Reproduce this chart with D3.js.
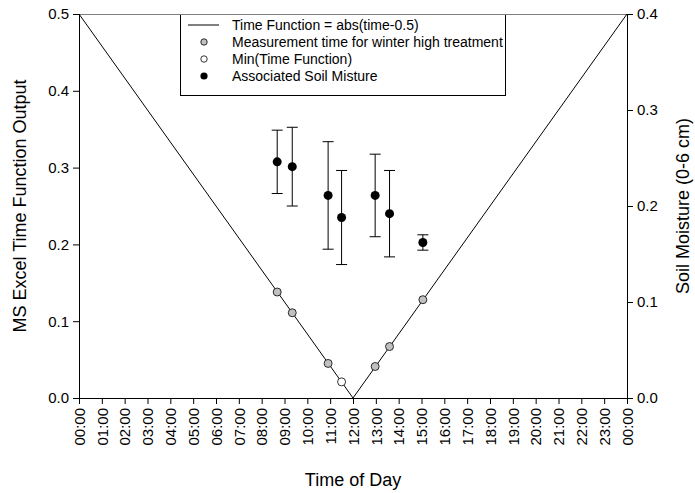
<!DOCTYPE html>
<html>
<head>
<meta charset="utf-8">
<script src="https://cdn.jsdelivr.net/npm/d3@7/dist/d3.min.js"></script>
<style>
  html, body { margin: 0; padding: 0; background: #fff; }
  svg { display: block; font-family: "Liberation Sans", Arial, sans-serif; }
</style>
</head>
<body>
<svg id="chart" width="695" height="493"></svg>
<script>
// Time function: abs(time - 0.5), time as fraction of a day (hours on the axis)
const fnHours = [0, 12, 24];
const fnValues = [0.5, 0, 0.5];

// Measurement times (hours) for the winter high treatment and their function values
const measHours = [8.68, 9.34, 10.91, 12.97, 13.60, 15.06];
const measValues = [0.138, 0.111, 0.045, 0.041, 0.067, 0.128];

// Minimum of the time function among the measurement times
const minHours = [11.5];
const minValues = [0.021];

// Associated soil moisture (0-6 cm), mean and error
const soilHours = [8.68, 9.34, 10.91, 11.5, 12.97, 13.60, 15.06];
const soilMean = [0.246, 0.241, 0.211, 0.188, 0.211, 0.192, 0.162];
const soilErr = [0.033, 0.041, 0.056, 0.049, 0.043, 0.045, 0.008];

// Axis ticks
const xTickHours = d3.range(0, 25);
const xTickLabels = ["00:00","01:00","02:00","03:00","04:00","05:00","06:00","07:00",
  "08:00","09:00","10:00","11:00","12:00","13:00","14:00","15:00","16:00","17:00",
  "18:00","19:00","20:00","21:00","22:00","23:00","00:00"];
const yLeftTicks = [0, 0.1, 0.2, 0.3, 0.4, 0.5];
const yRightTicks = [0, 0.1, 0.2, 0.3, 0.4];

const legendItems = [
  { kind: "line", label: "Time Function = abs(time-0.5)" },
  { kind: "gray", label: "Measurement time for winter high treatment" },
  { kind: "white", label: "Min(Time Function)" },
  { kind: "black", label: "Associated Soil Misture" }
];

const svg = d3.select("#chart");
const plotL = 79, plotR = 627, plotT = 14, plotB = 398;

const x = d3.scaleLinear().domain([0, 24]).range([plotL, plotR]);
const yL = d3.scaleLinear().domain([0, 0.5]).range([plotB, plotT]);
const yR = d3.scaleLinear().domain([0, 0.4]).range([plotB, plotT]);

const tickFont = "15px";
const titleFont = "18px";

// Top frame line
svg.append("line")
  .attr("x1", plotL).attr("x2", plotR)
  .attr("y1", plotT + 0.5).attr("y2", plotT + 0.5)
  .attr("stroke", "#808080").attr("stroke-width", 1.2);

// Left axis
const gL = svg.append("g").attr("transform", `translate(${plotL},0)`)
  .call(d3.axisLeft(yL).tickValues(yLeftTicks).tickFormat(d3.format(".1f")).tickSizeOuter(0).tickSize(6).tickPadding(4));
// Right axis
const gR = svg.append("g").attr("transform", `translate(${plotR},0)`)
  .call(d3.axisRight(yR).tickValues(yRightTicks).tickFormat(d3.format(".1f")).tickSizeOuter(0).tickSize(6).tickPadding(4));
// Bottom axis
const gB = svg.append("g").attr("transform", `translate(0,${plotB})`)
  .call(d3.axisBottom(x).tickValues(xTickHours).tickFormat((d, i) => xTickLabels[i]).tickSizeOuter(0).tickSize(6));
gB.selectAll(".tick text")
  .attr("transform", "rotate(-90)")
  .attr("text-anchor", "end")
  .attr("x", -10).attr("y", 0).attr("dy", "0.35em");

[gL, gR, gB].forEach(g => {
  g.selectAll("text").attr("font-size", tickFont).attr("fill", "#000")
    .attr("font-family", "'Liberation Sans', Arial, sans-serif");
  g.selectAll("path, line").attr("stroke", "#000");
});

// Axis titles
svg.append("text")
  .attr("transform", `translate(26,${(plotT + plotB) / 2}) rotate(-90)`)
  .attr("text-anchor", "middle").attr("font-size", titleFont)
  .text("MS Excel Time Function Output");
svg.append("text")
  .attr("transform", `translate(689,${(plotT + plotB) / 2}) rotate(-90)`)
  .attr("text-anchor", "middle").attr("font-size", titleFont)
  .text("Soil Moisture (0-6 cm)");
svg.append("text")
  .attr("x", (plotL + plotR) / 2).attr("y", 486)
  .attr("text-anchor", "middle").attr("font-size", titleFont)
  .text("Time of Day");

// Time function line
const line = d3.line().x((d, i) => x(fnHours[i])).y(d => yL(d));
svg.append("path").datum(fnValues)
  .attr("d", line).attr("fill", "none").attr("stroke", "#000").attr("stroke-width", 1);

// Error bars for soil moisture
const capW = 5.5;
const eb = svg.append("g");
soilHours.forEach((h, i) => {
  const cx = x(h), y1 = yR(soilMean[i] + soilErr[i]), y2 = yR(soilMean[i] - soilErr[i]);
  eb.append("line").attr("x1", cx).attr("x2", cx).attr("y1", y1).attr("y2", y2).attr("stroke", "#000");
  eb.append("line").attr("x1", cx - capW).attr("x2", cx + capW).attr("y1", y1).attr("y2", y1).attr("stroke", "#000");
  eb.append("line").attr("x1", cx - capW).attr("x2", cx + capW).attr("y1", y2).attr("y2", y2).attr("stroke", "#000");
});

// Soil moisture points
svg.append("g").selectAll("circle").data(soilMean).join("circle")
  .attr("cx", (d, i) => x(soilHours[i])).attr("cy", d => yR(d))
  .attr("r", 4.5).attr("fill", "#000");

// Measurement times
svg.append("g").selectAll("circle").data(measValues).join("circle")
  .attr("cx", (d, i) => x(measHours[i])).attr("cy", d => yL(d))
  .attr("r", 4).attr("fill", "#c0c0c0").attr("stroke", "#000").attr("stroke-width", 0.8);

// Minimum of the function
svg.append("g").selectAll("circle").data(minValues).join("circle")
  .attr("cx", (d, i) => x(minHours[i])).attr("cy", d => yL(d))
  .attr("r", 4).attr("fill", "#fff").attr("stroke", "#000").attr("stroke-width", 0.8);

// Legend
const lg = svg.append("g");
const lgX = 180, lgY = 14, lgW = 325, lgH = 81, rowH = 17, row0 = 25;
lg.append("rect").attr("x", lgX + 0.5).attr("y", lgY + 0.5).attr("width", lgW).attr("height", lgH)
  .attr("fill", "#fff").attr("stroke", "#000").attr("stroke-width", 1);
lg.append("line").attr("x1", lgX).attr("x2", lgX + lgW + 1).attr("y1", lgY + 0.5).attr("y2", lgY + 0.5)
  .attr("stroke", "#808080").attr("stroke-width", 1.2);
legendItems.forEach((it, i) => {
  const cy = row0 + i * rowH;
  if (it.kind === "line") {
    lg.append("line").attr("x1", 188).attr("x2", 219).attr("y1", cy).attr("y2", cy).attr("stroke", "#000");
  } else if (it.kind === "gray") {
    lg.append("circle").attr("cx", 204).attr("cy", cy).attr("r", 3.2)
      .attr("fill", "#c0c0c0").attr("stroke", "#000").attr("stroke-width", 0.8);
  } else if (it.kind === "white") {
    lg.append("circle").attr("cx", 204).attr("cy", cy).attr("r", 3.2)
      .attr("fill", "#fff").attr("stroke", "#000").attr("stroke-width", 0.8);
  } else {
    lg.append("circle").attr("cx", 204).attr("cy", cy).attr("r", 3.6).attr("fill", "#000");
  }
  lg.append("text").attr("x", 232).attr("y", cy).attr("dy", "0.35em")
    .attr("font-size", "14px").text(it.label);
});
</script>
</body>
</html>
